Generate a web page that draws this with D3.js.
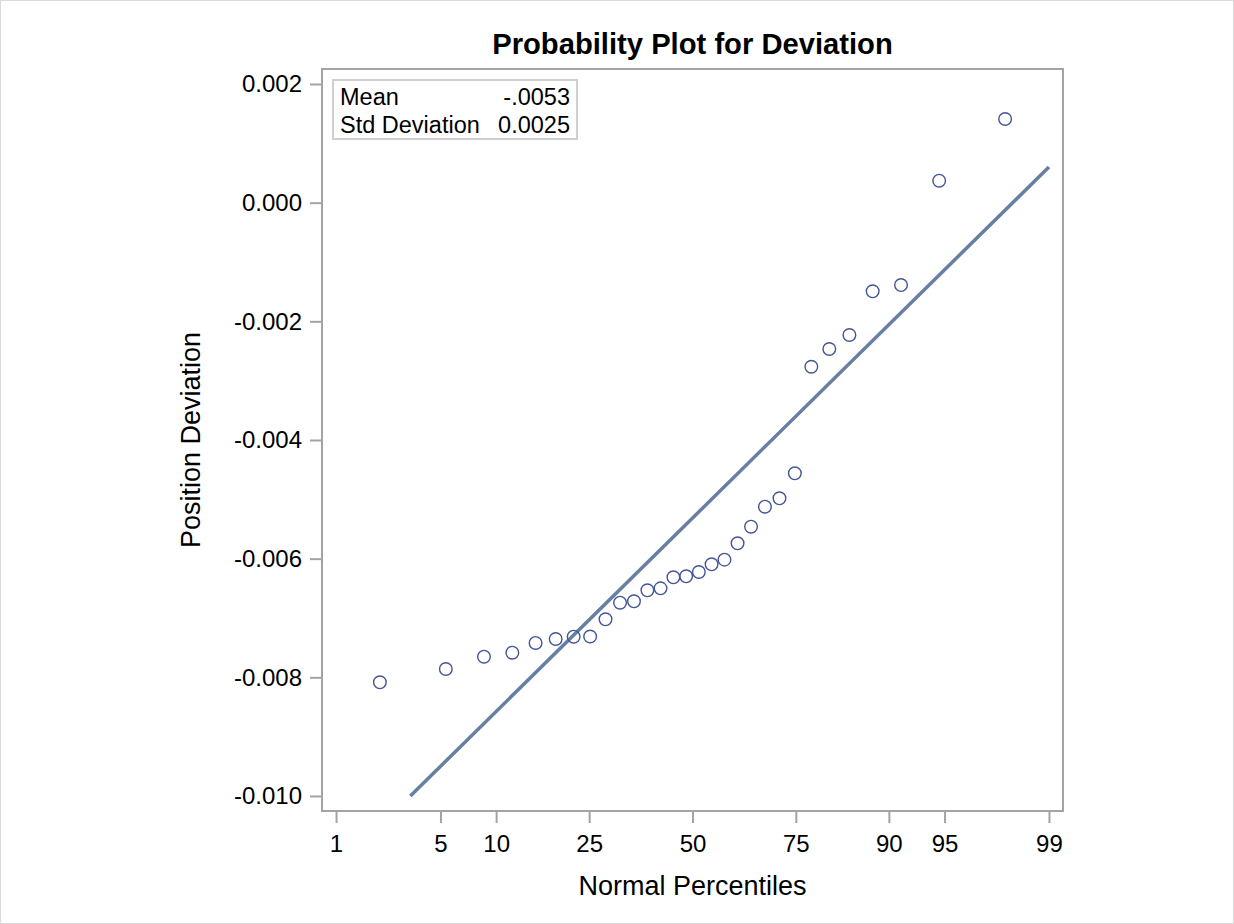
<!DOCTYPE html>
<html>
<head>
<meta charset="utf-8">
<script src="https://cdn.jsdelivr.net/npm/d3@7"></script>
<style>
  html, body { margin: 0; padding: 0; background: #ffffff; }
  svg { display: block; font-family: "Liberation Sans", Arial, sans-serif; }
</style>
</head>
<body>
<svg id="chart" width="1234" height="924"></svg>
<script>
// Ordered position deviations (30 observations)
const deviations = [
  -0.008084, -0.007860, -0.007652, -0.007585, -0.007421, -0.007354,
  -0.007315, -0.007312, -0.007022, -0.006742, -0.006719, -0.006533,
  -0.006500, -0.006314, -0.006297, -0.006225, -0.006095, -0.006017,
  -0.005741, -0.005461, -0.005124, -0.004983, -0.004561, -0.002765,
  -0.002466, -0.002230, -0.001494, -0.001388,  0.000370,  0.001410
];
const percentileTicks = [1, 5, 10, 25, 50, 75, 90, 95, 99];
const deviationTicks = [-0.010, -0.008, -0.006, -0.004, -0.002, 0.000, 0.002];

const titleText = "Probability Plot for Deviation";
const xLabel = "Normal Percentiles";
const yLabel = "Position Deviation";

// Inverse standard normal CDF (Acklam's rational approximation)
function probit(p) {
  const a = [-3.969683028665376e+01, 2.209460984245205e+02, -2.759285104469687e+02,
             1.383577518672690e+02, -3.066479806614716e+01, 2.506628277459239e+00];
  const b = [-5.447609879822406e+01, 1.615858368580409e+02, -1.556989798598866e+02,
             6.680131188771972e+01, -1.328068155288572e+01];
  const c = [-7.784894002430293e-03, -3.223964580411365e-01, -2.400758277161838e+00,
             -2.549671010331150e+00, 4.374664141464968e+00, 2.938163982698783e+00];
  const d = [7.784695709041462e-03, 3.224671290700398e-01, 2.445134137142996e+00,
             3.754408661907416e+00];
  const pl = 0.02425, ph = 1 - pl;
  let q, r;
  if (p < pl) {
    q = Math.sqrt(-2 * Math.log(p));
    return (((((c[0]*q+c[1])*q+c[2])*q+c[3])*q+c[4])*q+c[5]) /
           ((((d[0]*q+d[1])*q+d[2])*q+d[3])*q+1);
  } else if (p <= ph) {
    q = p - 0.5; r = q * q;
    return (((((a[0]*r+a[1])*r+a[2])*r+a[3])*r+a[4])*r+a[5])*q /
           (((((b[0]*r+b[1])*r+b[2])*r+b[3])*r+b[4])*r+1);
  } else {
    q = Math.sqrt(-2 * Math.log(1 - p));
    return -(((((c[0]*q+c[1])*q+c[2])*q+c[3])*q+c[4])*q+c[5]) /
            ((((d[0]*q+d[1])*q+d[2])*q+d[3])*q+1);
  }
}

const n = deviations.length;
// Blom plotting positions
const points = deviations.map((v, i) => ({ z: probit((i + 1 - 0.375) / (n + 0.25)), v }));

const mu = d3.mean(deviations);
const sigma = d3.deviation(deviations);

const svg = d3.select("#chart");
const W = 1234, H = 924;
const frame = { left: 322, right: 1063, top: 69, bottom: 811 };

const zMax = 2.418;
const x = d3.scaleLinear().domain([-zMax, zMax]).range([frame.left, frame.right]);
const yPad = 0.000253;
const y = d3.scaleLinear().domain([-0.010 - yPad, 0.002 + yPad]).range([frame.bottom, frame.top]);

const loc = d3.formatLocale({ decimal: ".", thousands: ",", grouping: [3], currency: ["$", ""], minus: "-" });
const fmtY = loc.format(".3f");

const axisColor = "#a3a3a3";
const textColor = "#000000";
const tickFont = 24;
const labelFont = 27;

// outer border
svg.append("rect")
  .attr("x", 0.5).attr("y", 0.5).attr("width", W - 1).attr("height", H - 1)
  .attr("fill", "none").attr("stroke", "#d9d9d9").attr("stroke-width", 1);

// title
svg.append("text")
  .attr("x", (frame.left + frame.right) / 2).attr("y", 54)
  .attr("text-anchor", "middle")
  .attr("font-size", 29.2).attr("font-weight", "bold")
  .attr("fill", textColor)
  .text(titleText);

// x axis
const xAxis = d3.axisBottom(x)
  .tickValues(percentileTicks.map(p => probit(p / 100)))
  .tickFormat((d, i) => percentileTicks[i])
  .tickSizeInner(12).tickSizeOuter(0).tickPadding(12);
const gx = svg.append("g").attr("transform", `translate(0,${frame.bottom})`).call(xAxis);
gx.select(".domain").remove();
gx.selectAll(".tick line").attr("stroke", axisColor).attr("stroke-width", 2);
gx.selectAll(".tick text").attr("font-size", tickFont).attr("fill", textColor)
  .attr("font-family", "Liberation Sans, Arial, sans-serif");

// y axis
const yAxis = d3.axisLeft(y)
  .tickValues(deviationTicks)
  .tickFormat(fmtY)
  .tickSizeInner(12).tickSizeOuter(0).tickPadding(8);
const gy = svg.append("g").attr("transform", `translate(${frame.left},0)`).call(yAxis);
gy.select(".domain").remove();
gy.selectAll(".tick line").attr("stroke", axisColor).attr("stroke-width", 2);
gy.selectAll(".tick text").attr("font-size", tickFont).attr("fill", textColor)
  .attr("font-family", "Liberation Sans, Arial, sans-serif");

// plot frame
svg.append("rect")
  .attr("x", frame.left).attr("y", frame.top)
  .attr("width", frame.right - frame.left).attr("height", frame.bottom - frame.top)
  .attr("fill", "none").attr("stroke", axisColor).attr("stroke-width", 2);

// axis labels
svg.append("text")
  .attr("x", (frame.left + frame.right) / 2).attr("y", 895)
  .attr("text-anchor", "middle").attr("font-size", labelFont).attr("fill", textColor)
  .text(xLabel);
svg.append("text")
  .attr("transform", `translate(200,${(frame.top + frame.bottom) / 2}) rotate(-90)`)
  .attr("text-anchor", "middle").attr("font-size", labelFont).attr("fill", textColor)
  .text(yLabel);

// normal reference line, clipped to the tick ranges
const zLo = Math.max(probit(0.01), (deviationTicks[0] - mu) / sigma);
const zHi = Math.min(probit(0.99), (deviationTicks[deviationTicks.length - 1] - mu) / sigma);
svg.append("path")
  .datum([zLo, zHi])
  .attr("d", d3.line().x(z => x(z)).y(z => y(mu + sigma * z)))
  .attr("fill", "none").attr("stroke", "#667fa2").attr("stroke-width", 3.5);

// observations
svg.append("g").selectAll("circle")
  .data(points)
  .join("circle")
  .attr("cx", d => x(d.z)).attr("cy", d => y(d.v))
  .attr("r", 6.3)
  .attr("fill", "none").attr("stroke", "#445694").attr("stroke-width", 1.4);

// inset statistics table
const fmtMean = v => loc.format(".4f")(v).replace(/^(-?)0\./, "$1.");
const fmtSd = loc.format(".4f");
const stats = [["Mean", fmtMean(mu)], ["Std Deviation", fmtSd(sigma)]];
const inset = svg.append("g");
inset.append("rect")
  .attr("x", 333).attr("y", 80).attr("width", 244).attr("height", 59)
  .attr("fill", "#ffffff").attr("stroke", "#cfcfcf").attr("stroke-width", 2);
stats.forEach((row, i) => {
  inset.append("text").attr("x", 340).attr("y", 105 + i * 28)
    .attr("font-size", 23.5).attr("fill", textColor).text(row[0]);
  inset.append("text").attr("x", 570).attr("y", 105 + i * 28)
    .attr("text-anchor", "end").attr("font-size", 23.5).attr("fill", textColor).text(row[1]);
});
</script>
</body>
</html>
